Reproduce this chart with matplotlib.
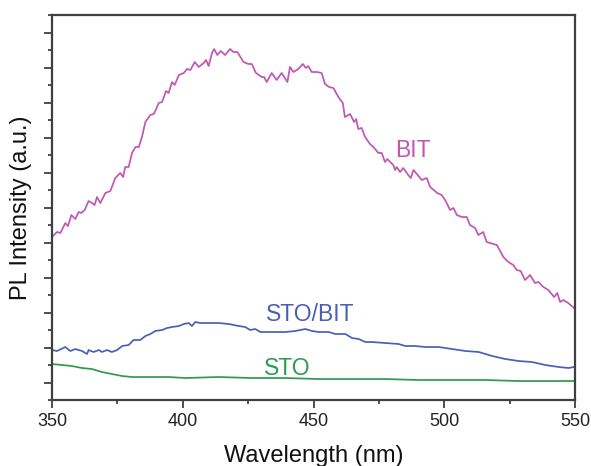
import matplotlib
matplotlib.use("Agg")
import matplotlib.pyplot as plt
from matplotlib.ticker import MultipleLocator, NullFormatter

plt.rcParams['font.family'] = ['Liberation Sans', 'DejaVu Sans']

# Photoluminescence spectra, intensity in arbitrary units
bit_wl = [350.0, 351.9, 353.2, 355.1, 356.1, 357.4, 358.9, 360.2, 361.2, 362.5,
          364.0, 365.3, 366.3, 367.2, 368.5, 370.4, 372.3, 374.2, 376.1, 377.2,
          378.0, 379.3, 380.6, 381.9, 383.2, 384.4, 385.7, 387.6, 388.9, 389.5,
          390.8, 392.1, 393.6, 394.6, 395.9, 396.9, 398.5, 400.4, 401.6, 402.9,
          404.6, 406.1, 408.0, 408.9, 409.9, 411.2, 412.0, 413.2, 414.5, 416.2,
          418.1, 419.3, 420.9, 423.2, 425.1, 426.4, 428.0, 430.2, 431.1, 432.1,
          434.0, 435.9, 437.8, 440.0, 441.0, 442.3, 444.2, 445.9, 447.1, 448.0,
          449.3, 451.2, 453.1, 454.4, 456.0, 457.6, 459.5, 461.2, 462.0, 464.0,
          465.5, 466.3, 467.1, 468.4, 469.7, 471.6, 472.9, 474.8, 476.1, 477.3,
          478.2, 480.5, 481.2, 481.8, 483.1, 484.3, 486.2, 487.2, 488.2, 490.1,
          491.4, 493.3, 494.6, 497.3, 499.0, 500.3, 500.9, 502.2, 503.5, 504.8,
          506.7, 508.6, 509.8, 511.8, 513.0, 514.9, 516.2, 517.5, 520.1, 522.6,
          524.5, 526.4, 527.7, 529.2, 530.9, 532.8, 534.7, 536.0, 537.9, 539.8,
          542.0, 543.2, 544.3, 545.5, 547.4, 549.6]
bit_int = [163, 168, 167, 177, 174, 185, 181, 188, 187, 190,
           199, 197, 195, 203, 197, 207, 209, 222, 227, 223,
           233, 233, 247, 253, 253, 263, 278, 285, 286, 289,
           297, 298, 309, 307, 318, 315, 325, 327, 331, 330,
           338, 333, 337, 340, 334, 347, 351, 345, 349, 345,
           351, 348, 348, 338, 336, 336, 327, 323, 323, 318,
           327, 320, 327, 318, 333, 328, 331, 336, 332, 334,
           328, 328, 327, 316, 313, 312, 303, 297, 283, 286,
           278, 281, 271, 272, 263, 256, 253, 247, 247, 238,
           241, 235, 230, 233, 228, 232, 225, 222, 230, 224,
           220, 222, 213, 207, 205, 200, 197, 190, 192, 185,
           183, 183, 175, 172, 165, 168, 158, 157, 155, 143,
           138, 135, 130, 129, 120, 125, 117, 118, 113, 110,
           103, 107, 98, 100, 97, 92]

stobit_wl = [350.0, 351.9, 355.1, 357.0, 358.9, 361.5, 363.4, 364.0, 365.9, 367.9,
             369.1, 371.0, 372.9, 374.9, 376.8, 379.3, 381.2, 383.8, 385.7, 387.6,
             389.5, 392.1, 394.0, 395.9, 398.5, 400.4, 402.3, 403.5, 404.8, 406.7,
             409.9, 413.7, 417.6, 421.4, 423.9, 425.8, 427.7, 429.7, 432.9, 436.7,
             439.2, 443.0, 446.9, 449.4, 452.0, 455.8, 458.3, 462.2, 464.7, 467.3,
             469.8, 472.4, 477.5, 482.6, 485.1, 488.9, 492.8, 497.9, 503.0, 508.1,
             513.2, 518.3, 523.3, 528.5, 533.6, 538.6, 543.8, 547.6, 549.5]
stobit_int = [50, 49, 53, 49, 51, 49, 46, 50, 48, 50,
              48, 50, 48, 50, 54, 55, 60, 60, 64, 66,
              69, 70, 72, 73, 74, 76, 77, 74, 78, 77,
              77, 77, 76, 74, 73, 70, 71, 68, 68, 68,
              68, 69, 71, 69, 68, 68, 66, 66, 62, 61,
              58, 58, 57, 56, 54, 54, 53, 53, 51, 49,
              48, 44, 41, 39, 38, 35, 33, 32, 33]

sto_wl = [350.0, 353.8, 357.6, 361.5, 365.3, 369.1, 372.9, 376.8, 380.6, 388.2,
          394.6, 401.0, 413.7, 426.4, 439.2, 451.9, 464.7, 477.5, 490.2, 503.0,
          515.7, 528.5, 541.2, 549.5]
sto_int = [36, 35, 34, 32, 31, 28, 26, 24, 23, 23,
           23, 22, 23, 22, 22, 21, 21, 21, 20, 20,
           20, 19, 19, 19]

x_ticks = [350, 400, 450, 500, 550]

c_bit = '#c355b3'
c_stobit = '#4a5fb8'
c_sto = '#2e9a50'
spine_col = '#404040'

fig = plt.figure(figsize=(5.91, 4.66), dpi=100)
ax = fig.add_axes([0.088, 0.1416, 0.885, 0.8262])

ax.plot(bit_wl, bit_int, color=c_bit, lw=1.25)
ax.plot(stobit_wl, stobit_int, color=c_stobit, lw=1.25)
ax.plot(sto_wl, sto_int, color=c_sto, lw=1.25)

ax.text(488, 250, 'BIT', color=c_bit, fontsize=16.5, ha='center', va='center')
ax.text(448.7, 86, 'STO/BIT', color=c_stobit, fontsize=16.5, ha='center', va='center')
ax.text(439.9, 32, 'STO', color=c_sto, fontsize=16.5, ha='center', va='center')

ax.set_xlim(350, 550)
ax.set_ylim(0, 385)
ax.set_xticks(x_ticks)
ax.xaxis.set_minor_locator(MultipleLocator(25))
ax.set_yticks([17.5 + 35 * k for k in range(11)])
ax.yaxis.set_minor_locator(MultipleLocator(35))
ax.yaxis.set_major_formatter(NullFormatter())

ax.tick_params(which='major', direction='out', length=6, width=1.3, colors=spine_col,
               labelsize=13, labelcolor='#222222')
ax.tick_params(which='minor', direction='out', length=3, width=1.3, colors=spine_col)

for s in ax.spines.values():
    s.set_color(spine_col)
    s.set_linewidth(1.6)

ax.set_xlabel('Wavelength (nm)', fontsize=17, color='#111111', labelpad=11)
ax.set_ylabel('PL Intensity (a.u.)', fontsize=17, color='#111111', labelpad=5)

fig.savefig('out.png', dpi=100)
